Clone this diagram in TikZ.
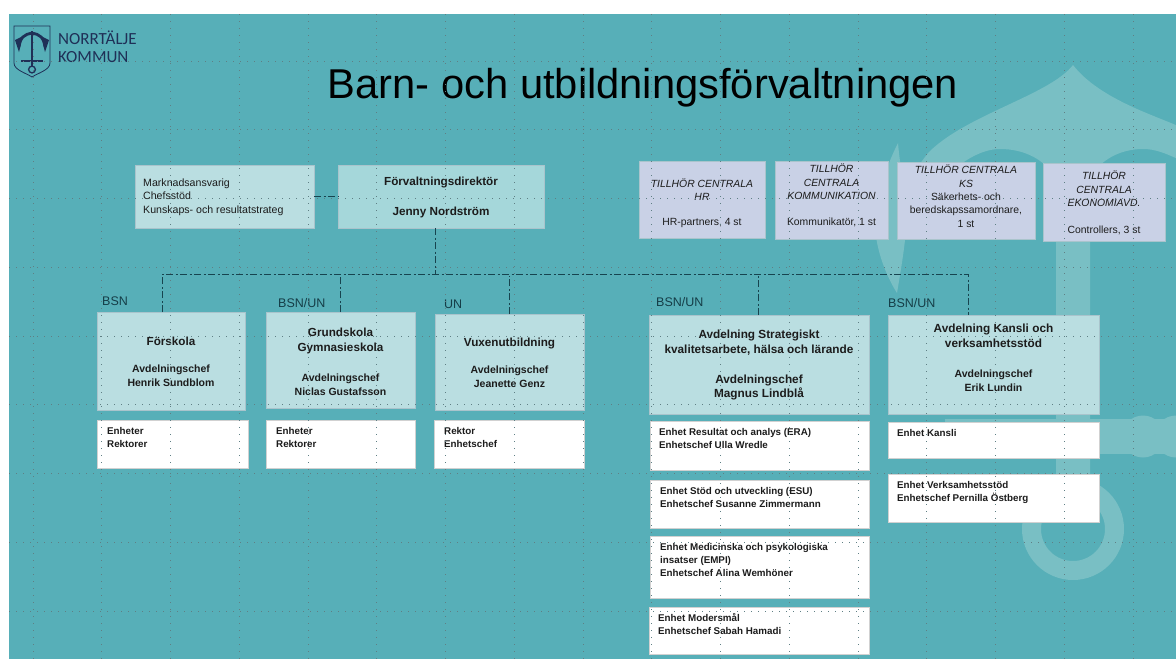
\documentclass[tikz,border=0pt]{standalone}
\usepackage{fontspec}
\setmainfont{Liberation Sans}
\newfontfamily\logofont{Carlito}
\definecolor{bgteal}{HTML}{57AFB8}
\definecolor{wmark}{HTML}{79BFC4}
\definecolor{lightbox}{HTML}{BADEE1}
\definecolor{dirbox}{HTML}{A5D7DA}
\definecolor{lilac}{HTML}{C9D1E6}
\definecolor{boxedge}{HTML}{A9C4CC}
\definecolor{navy}{HTML}{1F3057}
\definecolor{gridc}{HTML}{5F7F84}
\definecolor{linec}{HTML}{17444F}
\definecolor{txt}{HTML}{1C1C1C}
\tikzset{
  px/.style={x=1pt,y=-1pt},
  boxbase/.style={draw=boxedge,line width=0.9pt,inner sep=0pt,outer sep=0pt,anchor=north west,text=txt,align=center},
  avd/.style={boxbase,fill=lightbox},
  dirb/.style={boxbase,fill=dirbox},
  lil/.style={boxbase,fill=lilac},
  wbox/.style={boxbase,fill=white,draw=black!18},
  tl/.style={anchor=north west,inner sep=0pt,align=left,text=txt,font=\fontsize{9.8}{13}\selectfont\bfseries},
  ctr/.style={inner sep=0pt,text=txt,align=center,font=\fontsize{10.4}{13.6}\selectfont},
  cti/.style={ctr,font=\fontsize{10.4}{13.6}\selectfont\itshape},
  ctrb/.style={ctr,font=\fontsize{10.5}{13.8}\selectfont\bfseries},
  hdb/.style={ctr,font=\fontsize{11.7}{15.3}\selectfont\bfseries},
  hdc/.style={ctr,font=\fontsize{11.8}{14.8}\selectfont\bfseries},
  grp/.style={anchor=base west,inner sep=0pt,text=linec!90!black,font=\fontsize{12.5}{14}\selectfont},
  conn/.style={draw=linec,line width=0.9pt,dash pattern=on 7pt off 2.5pt on 2pt off 2.5pt},
  gridl/.style={draw=gridc,line width=0.8pt,dash pattern=on 1.4pt off 5.6pt},
}
\begin{document}
\begin{tikzpicture}[px]
\useasboundingbox (0,0) rectangle (1176,659);
\fill[white] (0,0) rectangle (1176,659);
\fill[bgteal] (9,14) rectangle (1176,659);
% watermark anchor
\begin{scope}
\clip (9,14) rectangle (1176,659);
\fill[wmark] (898,143) .. controls (882,175) and (870,215) .. (878,247)
  .. controls (882,265) and (890,282) .. (897,293)
  .. controls (900,275) and (903,258) .. (905,240)
  .. controls (915,205) and (960,149) .. (1000,149)
  .. controls (1025,149) and (1045,160) .. (1056,178)
  -- (1056,490) -- (1090,490) -- (1090,178)
  .. controls (1100,160) and (1120,149) .. (1143,149)
  .. controls (1155,149) and (1165,153) .. (1180,160)
  -- (1180,127) .. controls (1160,117) and (1100,100) .. (1073,65)
  .. controls (1050,95) and (965,115) .. (928,153)
  -- (904,185) .. controls (901,170) and (899,155) .. (898,143) -- cycle;
\fill[wmark] (945,419) rectangle (1180,454);
\foreach \cx/\r in {950/8,975/10,1005/9,1143/21,1176/21}{\fill[wmark] (\cx,436.5) circle[radius=\r];}
\fill[wmark,even odd rule] (1073,529) circle[radius=51] (1073,529) circle[radius=32];
\end{scope}
% logo
\node[anchor=west,inner sep=0pt,text=navy,align=left,font=\logofont\fontsize{17}{18.5}\selectfont] (logotxt) at (58,46.5) {NORRTÄLJE\\KOMMUN};
\draw[navy,line width=0.8pt] (14,26) -- (50,26) -- (50,63) .. controls (50,70) and (38,73) .. (32,77) .. controls (26,73) and (14,70) .. (14,63) -- cycle;
\draw[navy,line width=2.4pt] (32,31) -- (32,66);
\draw[navy,line width=2.2pt] (21,61) -- (43,61);
\draw[navy,line width=1.3pt] (32,69.5) circle[radius=3.4];
\draw[navy,line width=2.8pt] (19,47) .. controls (19,38) and (25,34) .. (32,33) .. controls (39,34) and (45,38) .. (45,47);
\fill[navy] (15,40) -- (23,36) -- (19,52) -- cycle;
\fill[navy] (49,40) -- (41,36) -- (45,52) -- cycle;
% title
\node[inner sep=0pt,text=black,font=\fontsize{41.7}{50}\selectfont] (title) at (643,87.5) {Barn- och utbildningsförvaltningen};
% top boxes
\node[avd,minimum width=179pt,minimum height=63pt] (stod) at (135,165) {};
\node[tl,font=\fontsize{10.6}{13.6}\selectfont] at (143,178.5) {Marknadsansvarig\\Chefsstöd\\Kunskaps- och resultatstrateg};
\node[dirb,minimum width=206pt,minimum height=63pt] (dir) at (338,165) {};
\node[hdb,font=\fontsize{11.7}{30}\selectfont\bfseries] at (441,197) {Förvaltningsdirektör\\Jenny Nordström};
% central
\node[lil,minimum width=126pt,minimum height=77pt] (hr) at (639,161) {};
\node[cti] at (702,189.5) {TILLHÖR CENTRALA\\HR};
\node[ctr] at (702,222.5) {HR-partners, 4 st};
\node[lil,minimum width=113pt,minimum height=78pt] (kom) at (775,161) {};
\node[cti] at (831.5,182) {TILLHÖR\\CENTRALA\\KOMMUNIKATION};
\node[ctr] at (831.5,222.5) {Kommunikatör, 1 st};
\node[lil,minimum width=138pt,minimum height=77pt] (ks) at (897,162) {};
\node[cti] at (966,176) {TILLHÖR CENTRALA\\KS};
\node[ctr] at (966,210) {Säkerhets- och\\beredskapssamordnare,\\1 st};
\node[lil,minimum width=122pt,minimum height=78pt] (eko) at (1043,163) {};
\node[cti] at (1104,189) {TILLHÖR\\CENTRALA\\EKONOMIAVD.};
\node[ctr] at (1104,230.5) {Controllers, 3 st};
% department boxes
\node[avd,minimum width=148pt,minimum height=98pt] (fsk) at (97,312) {};
\node[hdb] at (171,341) {Förskola};
\node[ctrb] at (171,376) {Avdelningschef\\Henrik Sundblom};
\node[avd,minimum width=149pt,minimum height=96pt] (grs) at (266,312) {};
\node[hdb] at (340.5,341) {Grundskola\\Gymnasieskola};
\node[ctrb] at (340.5,385) {Avdelningschef\\Niclas Gustafsson};
\node[avd,minimum width=149pt,minimum height=96pt] (vux) at (435,314) {};
\node[hdb] at (509.5,343) {Vuxenutbildning};
\node[ctrb] at (509.5,377) {Avdelningschef\\Jeanette Genz};
\node[avd,minimum width=220pt,minimum height=99pt] (str) at (649,315) {};
\node[hdc] at (759,342.5) {Avdelning Strategiskt\\kvalitetsarbete, hälsa och lärande};
\node[hdc] at (759,387.5) {Avdelningschef\\Magnus Lindblå};
\node[avd,minimum width=211pt,minimum height=99pt] (kan) at (888,315) {};
\node[hdc] at (993.5,336) {Avdelning Kansli och\\verksamhetsstöd};
\node[ctrb] at (993.5,381) {Avdelningschef\\Erik Lundin};
% white boxes
\node[wbox,minimum width=151pt,minimum height=48pt] (w1) at (97,420) {};
\node[tl] at (107,427) {Enheter\\Rektorer};
\node[wbox,minimum width=149pt,minimum height=48pt] (w2) at (266,420) {};
\node[tl] at (276,427) {Enheter\\Rektorer};
\node[wbox,minimum width=150pt,minimum height=48pt] (w3) at (434,420) {};
\node[tl] at (444,427) {Rektor\\Enhetschef};
\node[wbox,minimum width=219pt,minimum height=49pt] (w4) at (650,421) {};
\node[tl] at (659,428) {Enhet Resultat och analys (ERA)\\Enhetschef Ulla Wredle};
\node[wbox,minimum width=219pt,minimum height=48pt] (w5) at (650,480) {};
\node[tl] at (660,487) {Enhet Stöd och utveckling (ESU)\\Enhetschef Susanne Zimmermann};
\node[wbox,minimum width=219pt,minimum height=62pt] (w6) at (650,536) {};
\node[tl] at (660,543) {Enhet Medicinska och psykologiska\\insatser (EMPI)\\Enhetschef Alina Wemhöner};
\node[wbox,minimum width=220pt,minimum height=47pt] (w7) at (649,607) {};
\node[tl] at (658,613) {Enhet Modersmål\\Enhetschef Sabah Hamadi};
\node[wbox,minimum width=211pt,minimum height=36pt] (w8) at (888,422) {};
\node[tl] at (897,429) {Enhet Kansli};
\node[wbox,minimum width=211pt,minimum height=48pt] (w9) at (888,474) {};
\node[tl] at (897,481) {Enhet Verksamhetsstöd\\Enhetschef Pernilla Östberg};
% group labels
\node[grp] at (102,305) {BSN};
\node[grp] at (278,307) {BSN/UN};
\node[grp] at (444,308.5) {UN};
\node[grp] at (656,306.5) {BSN/UN};
\node[grp] at (888,307.5) {BSN/UN};
% connectors
\coordinate (busL) at (162,274);
\coordinate (busR) at (968,274);
\coordinate (busD) at (435,274);
\draw[conn] (stod.east) -- (dir.west);
\draw[conn] (dir.south -| busD) -- (busD);
\draw[conn] (fsk.north -| busL) -- (busL) -- (busR) -- (kan.north -| busR);
\coordinate (t2) at (340,276);
\coordinate (t3) at (509,276);
\coordinate (t4) at (758,276);
\draw[conn] (grs.north -| t2) -- (t2);
\draw[conn] (vux.north -| t3) -- (t3);
\draw[conn] (str.north -| t4) -- (t4);
% dotted grid
\foreach \k in {0,...,16}{\draw[gridl] ({33+68.75*\k},14) -- ({33+68.75*\k},659);}
\foreach \k in {0,...,8}{\draw[gridl] (9,{61+68.75*\k}) -- (1176,{61+68.75*\k});}
\end{tikzpicture}
\end{document}
